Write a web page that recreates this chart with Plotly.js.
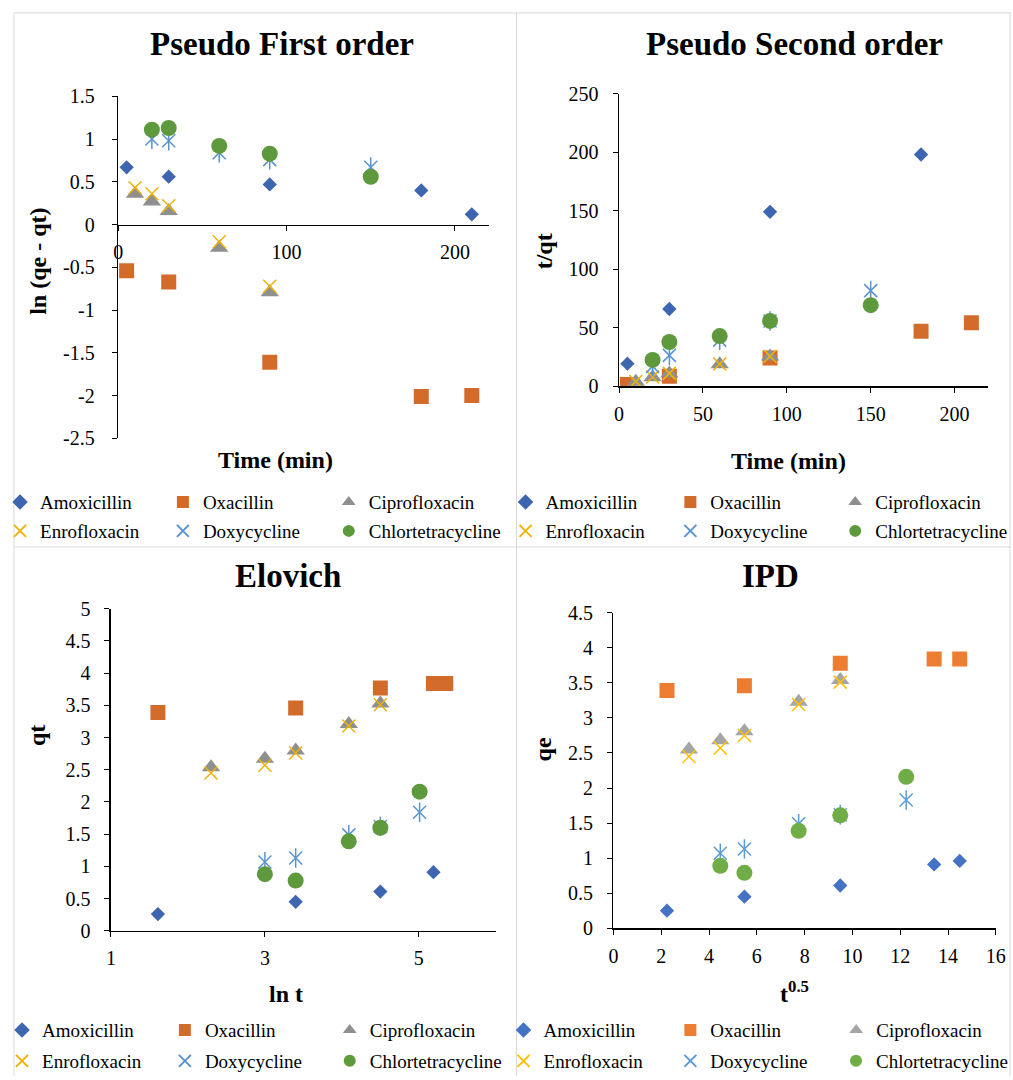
<!DOCTYPE html>
<html>
<head>
<meta charset="utf-8">
<script src="https://cdn.plot.ly/plotly-3.0.1.min.js"></script>
<style>
html,body{margin:0;padding:0;background:#fff;}
#chart{width:1013px;height:1080px;}
</style>
</head>
<body>
<div id="chart"></div>
<script>
// ---------- DATA ----------
const seriesNames = ["Amoxicillin", "Oxacillin", "Ciprofloxacin", "Enrofloxacin", "Doxycycline", "Chlortetracycline"];
const panelTitles = ["Pseudo First order", "Pseudo Second order", "Elovich", "IPD"];
const xTitles = ["Time (min)", "Time (min)", "ln t", "t<sup>0.5</sup>"];
const yTitles = ["ln (qe - qt)", "t/qt", "qt", "qe"];

// Pseudo First order: x = time (min), y = ln(qe - qt)
const amoxT1 = [5, 30, 90, 180, 210];
const amoxPFO = [0.67, 0.56, 0.47, 0.40, 0.12];
const oxaT1 = [5, 30, 90, 180, 210];
const oxaPFO = [-0.54, -0.67, -1.61, -2.01, -2.00];
const ciproT1 = [10, 20, 30, 60, 90];
const ciproPFO = [0.36, 0.27, 0.16, -0.27, -0.79];
const enroT1 = [10, 20, 30, 60, 90];
const enroPFO = [0.43, 0.36, 0.22, -0.20, -0.72];
const doxyT1 = [20, 30, 60, 90, 150];
const doxyPFO = [1.00, 0.98, 0.84, 0.76, 0.67];
const chlorT1 = [20, 30, 60, 90, 150];
const chlorPFO = [1.11, 1.13, 0.92, 0.83, 0.56];

// Pseudo Second order: x = time (min), y = t/qt
const amoxT2 = [5, 30, 90, 180];
const amoxPSO = [19.3, 66, 149, 198];
const oxaT2 = [5, 30, 90, 180, 210];
const oxaPSO = [1.4, 8.6, 24.1, 47.1, 54.3];
const ciproT2 = [10, 20, 30, 60, 90];
const ciproPSO = [3.9, 7.6, 10.8, 18.7, 25.4];
const enroT2 = [10, 20, 30, 60, 90];
const enroPSO = [4.1, 7.9, 11.0, 19.0, 25.6];
const doxyT2 = [20, 30, 60, 90, 150];
const doxyPSO = [17, 26.4, 39.4, 55.8, 81.7];
const chlorT2 = [20, 30, 60, 90, 150];
const chlorPSO = [22.5, 37.8, 42.9, 55.8, 69.3];

// Elovich: x = ln t, y = qt
const amoxLnT = [1.61, 3.40, 4.50, 5.19];
const amoxEL = [0.26, 0.45, 0.61, 0.91];
const oxaLnT = [1.61, 3.40, 4.50, 5.19, 5.35];
const oxaEL = [3.39, 3.46, 3.77, 3.84, 3.84];
const ciproLnT = [2.30, 3.00, 3.40, 4.09, 4.50];
const ciproEL = [2.54, 2.67, 2.80, 3.21, 3.53];
const enroLnT = [2.30, 3.00, 3.40, 4.09, 4.50];
const enroEL = [2.45, 2.57, 2.76, 3.18, 3.51];
const doxyLnT = [3.00, 3.40, 4.09, 4.50, 5.01];
const doxyEL = [1.07, 1.13, 1.49, 1.62, 1.84];
const chlorLnT = [3.00, 3.40, 4.09, 4.50, 5.01];
const chlorEL = [0.88, 0.78, 1.39, 1.60, 2.16];

// IPD: x = t^0.5, y = qe
const amoxSqT = [2.24, 5.48, 9.49, 13.42, 14.49];
const amoxIPD = [0.25, 0.45, 0.61, 0.91, 0.96];
const oxaSqT = [2.24, 5.48, 9.49, 13.42, 14.49];
const oxaIPD = [3.39, 3.46, 3.78, 3.84, 3.84];
const ciproSqT = [3.16, 4.47, 5.48, 7.75, 9.49];
const ciproIPD = [2.55, 2.68, 2.81, 3.23, 3.54];
const enroSqT = [3.16, 4.47, 5.48, 7.75, 9.49];
const enroIPD = [2.45, 2.57, 2.75, 3.19, 3.51];
const doxySqT = [4.47, 5.48, 7.75, 9.49, 12.25];
const doxyIPD = [1.07, 1.13, 1.49, 1.62, 1.83];
const chlorSqT = [4.47, 5.48, 7.75, 9.49, 12.25];
const chlorIPD = [0.89, 0.79, 1.39, 1.61, 2.16];

// Tick labels for the first panel's y axis
const pfoTickVals = [1.5, 1, 0.5, 0, -0.5, -1, -1.5, -2, -2.5];
const pfoTickText = ["1.5", "1", "0.5", "0", "-0.5", "-1", "-1.5", "-2", "-2.5"];

// ---------- STYLE ----------
const W = 1013, H = 1080;
const FONT = "Liberation Serif, 'Times New Roman', serif";
const px = v => v / W;
const py = v => 1 - v / H;

const darkPalette = ["#3E65B0", "#D36B2B", "#8F8F8F", "#EEB30A", "#5A94CF", "#5E9A3D"];
const brightPalette = ["#4472C4", "#ED7D31", "#A5A5A5", "#FFC000", "#5B9BD5", "#70AD47"];
const palettes = [darkPalette, darkPalette, darkPalette, brightPalette];

const symbols = ["diamond", "square", "triangle-up", "x-thin-open", "x-thin-open", "circle"];
const sizes = [11, 15, 16, 13, 13, 16];

const panels = [
  [[amoxT1, amoxPFO], [oxaT1, oxaPFO], [ciproT1, ciproPFO], [enroT1, enroPFO], [doxyT1, doxyPFO], [chlorT1, chlorPFO]],
  [[amoxT2, amoxPSO], [oxaT2, oxaPSO], [ciproT2, ciproPSO], [enroT2, enroPSO], [doxyT2, doxyPSO], [chlorT2, chlorPSO]],
  [[amoxLnT, amoxEL], [oxaLnT, oxaEL], [ciproLnT, ciproEL], [enroLnT, enroEL], [doxyLnT, doxyEL], [chlorLnT, chlorEL]],
  [[amoxSqT, amoxIPD], [oxaSqT, oxaIPD], [ciproSqT, ciproIPD], [enroSqT, enroIPD], [doxySqT, doxyIPD], [chlorSqT, chlorIPD]]
];

// legend layout (text start x per column, row y) per panel
const legendCols = [[35, 199, 366], [544, 710, 876], [37, 201, 367], [542, 710, 877]];
const legendRows = [[504, 533], [504, 533], [1034, 1065], [1034, 1065]];

const traces = [];
const layout = {
  width: W, height: H,
  margin: {l: 0, r: 0, t: 0, b: 0},
  paper_bgcolor: "#fff", plot_bgcolor: "rgba(0,0,0,0)",
  font: {family: FONT, size: 20, color: "#000"},
  showlegend: true,
  annotations: [], shapes: []
};

panels.forEach((series, p) => {
  const xa = p === 0 ? "x" : "x" + (p + 1);
  const ya = p === 0 ? "y" : "y" + (p + 1);
  series.forEach((s, i) => {
    const idx = p * 6 + i;
    const lg = idx === 0 ? "legend" : "legend" + (idx + 1);
    const col = palettes[p][i];
    const open = symbols[i].indexOf("open") >= 0;
    traces.push({
      type: "scatter", mode: "markers",
      x: s[0], y: s[1], xaxis: xa, yaxis: ya,
      name: seriesNames[i], legend: lg,
      marker: {
        symbol: symbols[i], size: sizes[i], color: col,
        line: open ? {color: col, width: 1.5} : {width: 0}
      },
      hoverinfo: "skip"
    });
    if (i === 4) {
      // vertical stroke completing the Excel "star" marker for Doxycycline
      traces.push({
        type: "scatter", mode: "markers",
        x: s[0], y: s[1], xaxis: xa, yaxis: ya,
        name: seriesNames[i], legend: lg, showlegend: false,
        marker: {symbol: "line-ns-open", size: 14, color: col, line: {color: col, width: 1.5}},
        hoverinfo: "skip"
      });
    }
    layout[lg] = {
      x: px(legendCols[p][i % 3] - 40), xanchor: "left",
      y: py(legendRows[p][Math.floor(i / 3)]), yanchor: "middle",
      bgcolor: "rgba(0,0,0,0)", borderwidth: 0,
      font: {family: FONT, size: 19, color: "#000"},
      itemsizing: "constant", itemclick: false, itemdoubleclick: false
    };
  });
});

const axisBase = {
  showgrid: false, zeroline: false, showline: true, linecolor: "#000", linewidth: 1.5,
  ticks: "outside", ticklen: 5, tickwidth: 1, tickcolor: "#000",
  tickfont: {family: FONT, size: 20, color: "#000"}, fixedrange: true
};

// Panel 1
const y1Dom = [py(440), py(96.7)], y1Range = [-2.5, 1.5];
layout.yaxis = Object.assign({}, axisBase, {domain: y1Dom, range: y1Range, anchor: "x",
  tickmode: "array", tickvals: pfoTickVals, ticktext: pfoTickText, ticklabelstandoff: 13});
layout.xaxis = Object.assign({}, axisBase, {domain: [px(114), px(487)], range: [0, 220], dtick: 100,
  anchor: "free", position: y1Dom[0] + (0 - y1Range[0]) / (y1Range[1] - y1Range[0]) * (y1Dom[1] - y1Dom[0]),
  ticklabelstandoff: 4});
// Panel 2
layout.xaxis2 = Object.assign({}, axisBase, {domain: [px(618.3), px(990)], range: [0, 220], dtick: 50, anchor: "y2", ticklabelstandoff: 4});
layout.yaxis2 = Object.assign({}, axisBase, {domain: [py(387.7), py(94)], range: [0, 250], dtick: 50, anchor: "x2", ticklabelstandoff: 10});
// Panel 3
layout.xaxis3 = Object.assign({}, axisBase, {domain: [px(106.7), px(494.2)], range: [1, 6], tick0: 1, dtick: 2, anchor: "y3", ticklabelstandoff: 4});
layout.yaxis3 = Object.assign({}, axisBase, {domain: [py(934.3), py(611)], range: [0, 5], dtick: 0.5, anchor: "x3", ticklabelstandoff: 10});
// Panel 4
layout.xaxis4 = Object.assign({}, axisBase, {domain: [px(612.7), px(997.7)], range: [0, 16], dtick: 2, anchor: "y4", ticklabelstandoff: 4});
layout.yaxis4 = Object.assign({}, axisBase, {domain: [py(931.7), py(615)], range: [0, 4.5], dtick: 0.5, anchor: "x4", ticklabelstandoff: 10});

// Titles (chart, x axis, y axis) as annotations
const titlePos = [[279, 44], [795, 44], [285, 578], [771, 578]];
const xTitlePos = [[272, 462], [789, 463], [283, 998], [795, 996]];
const yTitlePos = [[33, 262], [543, 252], [32, 738], [542, 752]];
for (let p = 0; p < 4; p++) {
  layout.annotations.push({xref: "paper", yref: "paper", x: px(titlePos[p][0]), y: py(titlePos[p][1]),
    xanchor: "center", yanchor: "middle", showarrow: false, text: "<b>" + panelTitles[p] + "</b>",
    font: {family: FONT, size: 33, color: "#000"}});
  layout.annotations.push({xref: "paper", yref: "paper", x: px(xTitlePos[p][0]), y: py(xTitlePos[p][1]),
    xanchor: "center", yanchor: "middle", showarrow: false, text: "<b>" + xTitles[p] + "</b>",
    font: {family: FONT, size: 24, color: "#000"}});
  layout.annotations.push({xref: "paper", yref: "paper", x: px(yTitlePos[p][0]), y: py(yTitlePos[p][1]),
    xanchor: "center", yanchor: "middle", showarrow: false, textangle: -90, text: "<b>" + yTitles[p] + "</b>",
    font: {family: FONT, size: 24, color: "#000"}});
}

// Panel borders
const border = {type: "line", xref: "paper", yref: "paper", line: {color: "#D9D9D9", width: 1}};
layout.shapes.push(Object.assign({}, border, {x0: px(9), x1: px(1013), y0: py(13), y1: py(13)}));
layout.shapes.push(Object.assign({}, border, {x0: px(9), x1: px(1013), y0: py(549), y1: py(549)}));
layout.shapes.push(Object.assign({}, border, {x0: px(9), x1: px(9), y0: py(13), y1: py(1080)}));
layout.shapes.push(Object.assign({}, border, {x0: px(515), x1: px(515), y0: py(13), y1: py(1080)}));
layout.shapes.push(Object.assign({}, border, {x0: px(1012), x1: px(1012), y0: py(13), y1: py(1080)}));

Plotly.newPlot("chart", traces, layout, {displayModeBar: false, staticPlot: true});
</script>
</body>
</html>
